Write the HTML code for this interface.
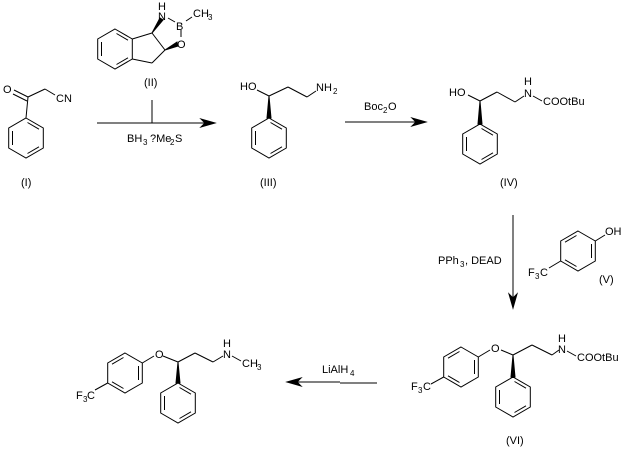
<!DOCTYPE html>
<html><head><meta charset="utf-8"><style>
html,body{margin:0;padding:0;background:#fff}
svg{display:block}
text{font-family:"Liberation Sans",sans-serif;font-size:11px;fill:#000}
.s{font-size:8px}
</style></head><body>
<svg width="628" height="462" viewBox="0 0 628 462" xmlns="http://www.w3.org/2000/svg" stroke="#000" stroke-width="1" fill="none">
<defs>
<g id="r">
<polygon points="0,-20 17.3,-10 17.3,10 0,20 -17.3,10 -17.3,-10"/>
<line x1="1.5" y1="-15.5" x2="13" y2="-8.8"/>
<line x1="13" y1="8.8" x2="1.5" y2="15.5"/>
<line x1="-13.5" y1="7" x2="-13.5" y2="-7"/>
</g>
<g id="p">
<polygon points="0,-20 17.3,-10 17.3,10 0,20 -17.3,10 -17.3,-10"/>
<line x1="13.5" y1="-7" x2="13.5" y2="7"/>
<line x1="-1.5" y1="15.5" x2="-13" y2="8.8"/>
<line x1="-13" y1="-8.8" x2="-1.5" y2="-15.5"/>
</g>
</defs>

<!-- (I) -->
<use href="#r" x="26" y="138"/>
<line x1="26" y1="118" x2="28" y2="97"/>
<line x1="28" y1="97" x2="14" y2="90"/>
<line x1="27" y1="101" x2="13" y2="94"/>
<line x1="28" y1="97" x2="45" y2="89"/>
<line x1="45" y1="89" x2="55" y2="95"/>
<g stroke="none"><text x="3" y="93">O</text><text x="56" y="102">CN</text><text x="21" y="186">(I)</text></g>

<!-- (II) -->
<use href="#r" x="115" y="49"/>
<line x1="132.3" y1="39" x2="152" y2="33"/>
<line x1="152" y1="33" x2="165" y2="50"/>
<line x1="165" y1="50" x2="152" y2="63"/>
<line x1="152" y1="63" x2="132.3" y2="59"/>
<polygon points="152,33 160,18 163,20" fill="#000"/>
<polygon points="165,50 177,42 178,46" fill="#000"/>
<line x1="168" y1="18" x2="175" y2="22"/>
<line x1="181" y1="30" x2="181" y2="37"/>
<line x1="186" y1="21" x2="192" y2="17"/>
<g stroke="none">
<text x="158" y="10">H</text><text x="158" y="20">N</text>
<text x="176" y="30">B</text><text x="177" y="48">O</text>
<text x="193" y="17">CH</text><text class="s" x="208" y="20">3</text>
<text x="144" y="86">(II)</text>
</g>

<!-- arrow 1 -->
<line x1="97" y1="123" x2="207" y2="123"/>
<line x1="152" y1="100" x2="152" y2="123"/>
<polygon points="215,123 201,119 205,123 201,127" fill="#000"/>
<g stroke="none"><text x="127" y="142">BH</text><text class="s" x="143" y="145">3</text><text x="150" y="142">?Me</text><text class="s" x="170" y="145">2</text><text x="175" y="142">S</text></g>

<!-- (III) -->
<use href="#r" x="269" y="138"/>
<polygon points="269,96 267,118 271,118" fill="#000"/>
<line x1="269" y1="96" x2="257" y2="90"/>
<line x1="269" y1="96" x2="288" y2="87"/>
<line x1="288" y1="87" x2="307" y2="97"/>
<line x1="307" y1="97" x2="316" y2="91"/>
<g stroke="none"><text x="240" y="90">HO</text><text x="316" y="91">NH</text><text class="s" x="333" y="94">2</text><text x="260" y="186">(III)</text></g>

<!-- arrow 2 -->
<line x1="345" y1="122" x2="418" y2="122"/>
<polygon points="426,122 412,118 416,122 412,126" fill="#000"/>
<g stroke="none"><text x="364" y="110">Boc</text><text class="s" x="383" y="113">2</text><text x="388" y="110">O</text></g>

<!-- (IV) -->
<use href="#r" x="480" y="144"/>
<polygon points="480,101 478,124 482,124" fill="#000"/>
<line x1="480" y1="101" x2="468" y2="95"/>
<line x1="480" y1="101" x2="497" y2="92"/>
<line x1="497" y1="92" x2="515" y2="102"/>
<line x1="515" y1="102" x2="524" y2="96"/>
<line x1="533" y1="96" x2="542" y2="101"/>
<g stroke="none"><text x="449" y="96">HO</text><text x="524" y="85">H</text><text x="524" y="97">N</text><text x="543" y="105">COOtBu</text><text x="500" y="186">(IV)</text></g>

<!-- arrow 3 -->
<line x1="513" y1="215" x2="513" y2="300"/>
<polygon points="513,308 509,294 513,298 517,294" fill="#000"/>
<g stroke="none"><text x="438" y="264">PPh</text><text class="s" x="460" y="267">3</text><text x="465" y="264">, DEAD</text></g>

<!-- (V) -->
<use href="#p" x="578" y="251"/>
<line x1="595.3" y1="241" x2="605" y2="235"/>
<line x1="560.7" y1="261" x2="549" y2="268"/>
<g stroke="none"><text x="605" y="235">OH</text><text x="528" y="276">F</text><text class="s" x="535" y="279">3</text><text x="540" y="276">C</text><text x="599" y="283">(V)</text></g>

<!-- (VI) -->
<use href="#p" x="461" y="367"/>
<line x1="478.3" y1="357" x2="490" y2="350"/>
<line x1="501" y1="350" x2="513" y2="355"/>
<line x1="443.7" y1="377" x2="431" y2="384"/>
<polygon points="513,355 511,377 515,377" fill="#000"/>
<use href="#r" x="513" y="397"/>
<line x1="513" y1="355" x2="532" y2="345"/>
<line x1="532" y1="345" x2="552" y2="355"/>
<line x1="552" y1="355" x2="559" y2="350"/>
<line x1="567" y1="351" x2="576" y2="356"/>
<g stroke="none"><text x="491" y="352">O</text><text x="558" y="342">H</text><text x="558" y="353">N</text><text x="577" y="361">COOtBu</text>
<text x="411" y="390">F</text><text class="s" x="418" y="393">3</text><text x="423" y="390">C</text><text x="506" y="444">(VI)</text></g>

<!-- arrow 4 -->
<line x1="377" y1="383" x2="340" y2="383"/>
<line x1="340" y1="382" x2="295" y2="382"/>
<polygon points="287,382 301,378 297,382 301,386" fill="#000"/>
<g stroke="none"><text x="322" y="373">LiAlH</text><text class="s" x="350" y="376">4</text></g>

<!-- final product -->
<use href="#p" x="125" y="373"/>
<line x1="142.3" y1="363" x2="154" y2="356"/>
<line x1="163" y1="356" x2="178" y2="362"/>
<line x1="107.7" y1="383" x2="95" y2="390"/>
<polygon points="178,362 176,383 180,383" fill="#000"/>
<use href="#r" x="178" y="403"/>
<line x1="178" y1="362" x2="195" y2="353"/>
<line x1="195" y1="353" x2="213" y2="362"/>
<line x1="213" y1="362" x2="223" y2="356"/>
<line x1="232" y1="356" x2="241" y2="361"/>
<g stroke="none"><text x="155" y="358">O</text><text x="223" y="347">H</text><text x="223" y="358">N</text><text x="242" y="367">CH</text><text class="s" x="257" y="370">3</text>
<text x="76" y="399">F</text><text class="s" x="83" y="402">3</text><text x="87" y="399">C</text></g>
</svg>
</body></html>
